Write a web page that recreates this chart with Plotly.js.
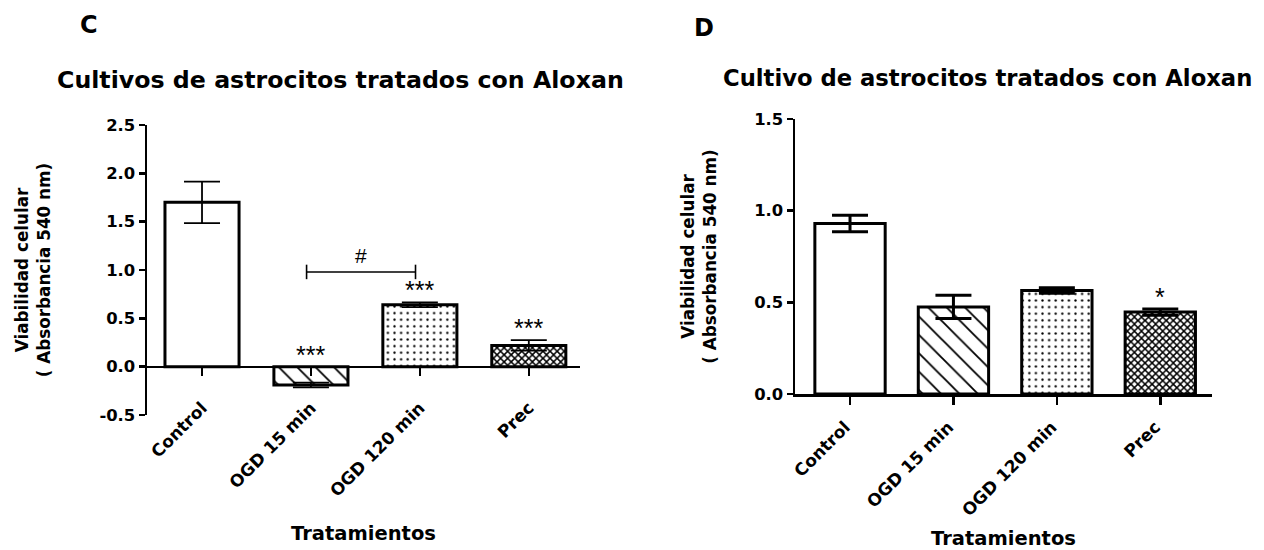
<!DOCTYPE html>
<html><head><meta charset="utf-8">
<script src="https://cdn.plot.ly/plotly-3.0.1.min.js"></script>
<style>html,body{margin:0;padding:0;background:#fff}</style>
</head><body><div id="chart" style="width:1264px;height:550px"></div>
<script>
// ---------- data ----------
const categories = ['Control', 'OGD 15 min', 'OGD 120 min', 'Prec'];
const valuesC = [1.70, -0.19, 0.64, 0.22];
const errorsC = [0.215, 0.025, 0.025, 0.055];
const valuesD = [0.93, 0.475, 0.565, 0.447];
const errorsD = [0.045, 0.063, 0.015, 0.017];
const sigC = ['', '***', '***', '***'];
const sigD = ['', '', '', '*'];
const yTickValsC = [-0.5, 0, 0.5, 1, 1.5, 2, 2.5];
const yTickTextC = ['-0.5', '0.0', '0.5', '1.0', '1.5', '2.0', '2.5'];
const yTickValsD = [0, 0.5, 1, 1.5];
const yTickTextD = ['0.0', '0.5', '1.0', '1.5'];
const titleC = 'Cultivos de astrocitos tratados con Aloxan';
const titleD = 'Cultivo de astrocitos tratados con Aloxan';
const yTitle = 'Viabilidad celular<br>( Absorbancia 540 nm)';
const xTitle = 'Tratamientos';
const panelLabels = ['C', 'D'];

// ---------- layout helpers ----------
const W = 1264, H = 550;
const px = x => x / W;
const py = y => 1 - y / H;
const FONT = 'DejaVu Sans, Arial, sans-serif';
const SYM = 'Liberation Sans, Arial, sans-serif';

const patShapes = ['', '\\', '.', 'x'];
const patSizes = [8, 13, 6.6, 5];
const patSolid = [0.2, 0.14, 0.1, 0.5];

function barTrace(vals, errs, xa, ya, thick) {
  return {
    type: 'bar', x: categories, y: vals, width: 0.68,
    xaxis: xa, yaxis: ya, showlegend: false, hoverinfo: 'skip',
    marker: {
      color: 'white', line: {color: 'black', width: 3},
      pattern: {shape: patShapes, size: patSizes, solidity: patSolid, fgcolor: 'black', bgcolor: 'white', fillmode: 'replace'}
    },
    error_y: {type: 'data', array: errs, visible: true, color: 'black', thickness: thick, width: 18}
  };
}

const yDomC = [py(415), py(125)];
const yRangeC = [-0.5, 2.5];
const xPosC = yDomC[0] + (0 - yRangeC[0]) / (yRangeC[1] - yRangeC[0]) * (yDomC[1] - yDomC[0]);

const tickFontY = {family: FONT, size: 16.4, color: 'black', weight: 'bold'};
const tickFontX = {family: FONT, size: 17, color: 'black', weight: 'bold'};
const axTitleFont = {family: FONT, size: 16.8, color: 'black', weight: 'bold'};
const xTitleFont = {family: FONT, size: 19.5, color: 'black', weight: 'bold'};

function xAxis(dom, range, extra) {
  return Object.assign({
    domain: dom, range: range, type: 'category',
    showline: true, linecolor: 'black', linewidth: 2.5,
    ticks: 'outside', ticklen: 8, tickwidth: 2.5, tickcolor: 'black',
    tickangle: -45, tickfont: tickFontX,
    showgrid: false, zeroline: false, fixedrange: true
  }, extra);
}
function yAxis(dom, range, vals, text, extra) {
  return Object.assign({
    domain: dom, range: range, tickmode: 'array', tickvals: vals, ticktext: text,
    showline: true, linecolor: 'black', linewidth: 2.5,
    ticks: 'outside', ticklen: 6, tickwidth: 2.5, tickcolor: 'black',
    tickfont: tickFontY, showgrid: false, zeroline: false, fixedrange: true
  }, extra);
}

const annotations = [];
function sigAnn(vals, errs, sig, xa, ya) {
  sig.forEach((s, i) => {
    if (!s) return;
    annotations.push({
      xref: xa, yref: ya, x: categories[i], y: Math.max(vals[i] + errs[i], 0),
      text: s, showarrow: false, xanchor: 'center', yanchor: 'bottom', yshift: -4,
      font: {family: SYM, size: 25, color: 'black'}
    });
  });
}
sigAnn(valuesC, errorsC, sigC, 'x', 'y');
sigAnn(valuesD, errorsD, sigD, 'x2', 'y2');

function paperText(text, x, y, size) {
  return {xref: 'paper', yref: 'paper', x: px(x), y: py(y), text: text, showarrow: false,
    xanchor: 'center', yanchor: 'middle',
    font: {family: FONT, size: size, color: 'black', weight: 'bold'}};
}
annotations.push(
  paperText(titleC, 340, 80, 23.7),
  paperText(titleD, 988, 78, 22.7),
  paperText(panelLabels[0], 89, 25, 24),
  paperText(panelLabels[1], 704, 28, 24),
  {xref: 'x', yref: 'y', x: 1.46, y: 0.98, text: '#', showarrow: false, xanchor: 'center', yanchor: 'bottom', yshift: 3,
   font: {family: SYM, size: 21, color: 'black'}}
);

const shapes = [
  {type: 'line', xref: 'x', yref: 'y', x0: 0.96, x1: 1.96, y0: 0.98, y1: 0.98, line: {color: 'black', width: 1.6}},
  {type: 'line', xref: 'x', yref: 'y', x0: 0.96, x1: 0.96, y0: 0.905, y1: 1.055, line: {color: 'black', width: 1.6}},
  {type: 'line', xref: 'x', yref: 'y', x0: 1.96, x1: 1.96, y0: 0.905, y1: 1.055, line: {color: 'black', width: 1.6}}
];

const layout = {
  width: W, height: H, margin: {l: 0, r: 0, t: 0, b: 0},
  paper_bgcolor: 'white', plot_bgcolor: 'rgba(0,0,0,0)',
  showlegend: false, bargap: 0.3,
  xaxis: xAxis([px(147), px(580)], [-0.505, 3.47], {anchor: 'free', position: xPosC, ticklabelstandoff: 15,
    title: {text: xTitle, font: xTitleFont, standoff: 26}}),
  yaxis: yAxis(yDomC, yRangeC, yTickValsC, yTickTextC, {anchor: 'x',
    title: {text: yTitle, font: axTitleFont, standoff: 45}}),
  xaxis2: xAxis([px(795), px(1212)], [-0.532, 3.5], {anchor: 'y2', ticklabelstandoff: 6, ticklabelshift: -5,
    title: {text: xTitle, font: xTitleFont, standoff: 20}}),
  yaxis2: yAxis([py(394), py(119)], [0, 1.5], yTickValsD, yTickTextD, {anchor: 'x2',
    title: {text: yTitle, font: axTitleFont, standoff: 34}}),
  annotations: annotations, shapes: shapes
};

Plotly.newPlot('chart', [
  barTrace(valuesC, errorsC, 'x', 'y', 1.8),
  barTrace(valuesD, errorsD, 'x2', 'y2', 3)
], layout, {staticPlot: true, displayModeBar: false});
</script></body></html>
